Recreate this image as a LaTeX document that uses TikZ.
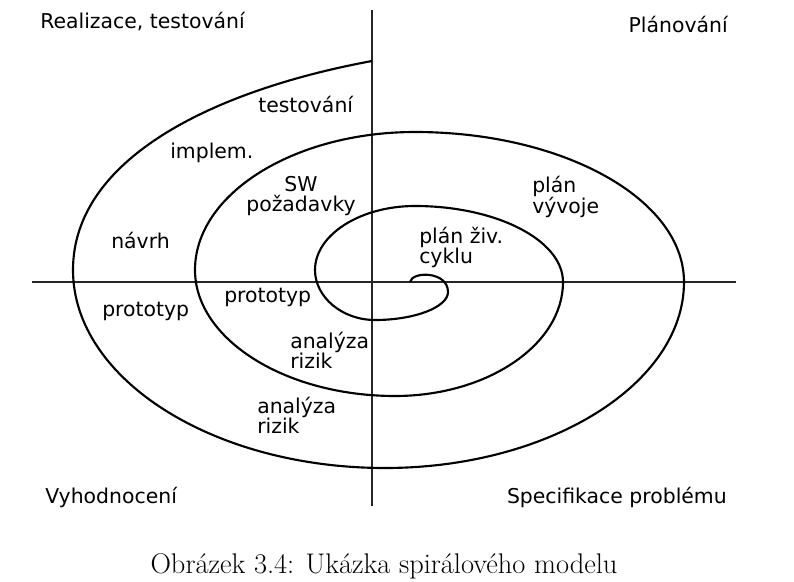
\documentclass[tikz,border=0pt]{standalone}
\usepackage{fontspec}
\newfontfamily\dvsans{DejaVu Sans}
\begin{document}
\begin{tikzpicture}[x=0.75pt,y=-0.75pt,
  lbl/.style={font=\dvsans\fontsize{15.3}{15}\selectfont, inner sep=0pt, anchor=west, align=left},
  axis/.style={line width=1pt, black!85},
  spiral/.style={line width=1.6pt, black}]
\path[use as bounding box] (0,0) rectangle (794,582);
% axes
\coordinate (vtop) at (372,10);
\coordinate (vbot) at (372,506);
\coordinate (hl) at (32,282);
\coordinate (hr) at (736,282);
\draw[axis] (vtop) -- (vbot);
\draw[axis] (hl) -- (hr);
% spiral
\draw[spiral] (410,282)
  .. controls (412,271) and (448,271) .. (448,292)
  .. controls (448,307) and (415,320) .. (375,320)
  .. controls (342,320) and (315,297) .. (315,270)
  .. controls (315,235) and (360,206) .. (415,206)
  .. controls (496,206) and (563,240) .. (563,282)
  .. controls (563,345) and (487,396) .. (395,396)
  .. controls (285,396) and (195,339) .. (195,270)
  .. controls (195,194) and (294,132) .. (415,132)
  .. controls (563,132) and (684,199) .. (684,282)
  .. controls (684,384) and (549,468) .. (385,468)
  .. controls (213,468) and (73,379) .. (73,270)
  .. controls (73,158) and (215,90) .. (372,61);
% quadrant labels
\node[lbl] (q1) at (40,22) {Realizace, testování};
\node[lbl, anchor=east] (q2) at (728,24) {Plánování};
\node[lbl] (q3) at (45,497) {Vyhodnocení};
\node[lbl, anchor=east] (q4) at (727,497) {Specifikace problému};
% inner labels
\node[lbl] (t1) at (258,104) {testování};
\node[lbl] (t2) at (170,153) {implem.};
\node[lbl, align=center, anchor=center] (t3) at (301,196) {SW\\požadavky};
\node[lbl] (t4) at (111,240) {návrh};
\node[lbl] (t5) at (102,311) {prototyp};
\node[lbl] (t6) at (224,297) {prototyp};
\node[lbl] (t7) at (290,350) {analýza\\rizik};
\node[lbl] (t8) at (257,415) {analýza\\rizik};
\node[lbl] (t9) at (419,247) {plán živ.\\cyklu};
\node[lbl] (t10) at (532,197) {plán\\vývoje};
% caption
\node[inner sep=0pt, font=\fontsize{21.3}{23}\selectfont] (cap) at (384,566) {Obrázek 3.4: Ukázka spirálového modelu};
\end{tikzpicture}
\end{document}
